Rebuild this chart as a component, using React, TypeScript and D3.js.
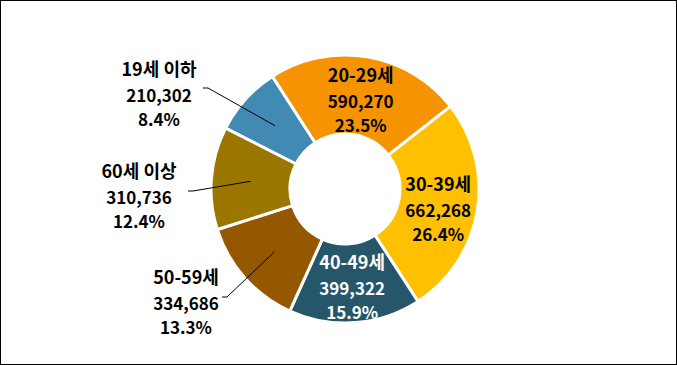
import React from 'react'
import * as d3 from 'd3'

const ageGroups = ['19세 이하', '20-29세', '30-39세', '40-49세', '50-59세', '60세 이상']
const population = [210302, 590270, 662268, 399322, 334686, 310736]
const shares = ['8.4%', '23.5%', '26.4%', '15.9%', '13.3%', '12.4%']
const colors = ['#418AB3', '#F59300', '#FEC000', '#255669', '#955700', '#9C7700']

// outside labels: text centre relative to the donut centre, and leader elbow
const outsideLabels: Record<number, { x: number; y: number; elbow: [number, number] }> = {
	0: { x: -186, y: -95, elbow: [-137, -101] },
	4: { x: -159, y: 113, elbow: [-118, 108] },
	5: { x: -206, y: 7, elbow: [-152, 2] },
}

const W = 677
const H = 365
const cx = 345
const cy = 189
const outerR = 134
const innerR = 55
const font = '"Noto Sans CJK KR", "Noto Sans", sans-serif'

export default function App() {
	const pie = d3
		.pie<number>()
		.sort(null)
		.startAngle((-63 * Math.PI) / 180)
		.endAngle((297 * Math.PI) / 180)

	const arcs = pie(population)
	const arc = d3.arc<d3.PieArcDatum<number>>().innerRadius(innerR).outerRadius(outerR)
	const fmt = d3.format(',')

	return (
		<svg width={W} height={H} style={{ position: 'absolute', left: 0, top: 0 }}>
			<rect x={0.5} y={0.5} width={W - 1} height={H - 1} fill="#fff" stroke="#000" />
			<g transform={`translate(${cx},${cy})`}>
				{arcs.map((a, i) => (
					<path key={ageGroups[i]} d={arc(a) || ''} fill={colors[i]} stroke="#fff" strokeWidth={3} />
				))}
				{arcs.map((a, i) => {
					const [mx, my] = arc.centroid(a)
					const out = outsideLabels[i]
					const lx = out ? out.x : mx
					const ly = out ? out.y : my + 4
					const fill = i === 3 ? '#fff' : '#000'
					return (
						<g key={'l' + i}>
							{out && (
								<polyline
									points={`${mx},${my} ${out.elbow[0]},${out.elbow[1]} ${out.elbow[0] - 5},${out.elbow[1]}`}
									fill="none"
									stroke="#000"
									strokeWidth={1}
								/>
							)}
							<text
								x={lx}
								textAnchor="middle"
								fontFamily={font}
								fontWeight="bold"
								fill={fill}
								dominantBaseline="central"
							>
								<tspan x={lx} y={ly - 26} fontSize={18}>{ageGroups[i]}</tspan>
								<tspan x={lx} y={ly} fontSize={17}>{fmt(population[i])}</tspan>
								<tspan x={lx} y={ly + 24} fontSize={17}>{shares[i]}</tspan>
							</text>
						</g>
					)
				})}
			</g>
		</svg>
	)
}
